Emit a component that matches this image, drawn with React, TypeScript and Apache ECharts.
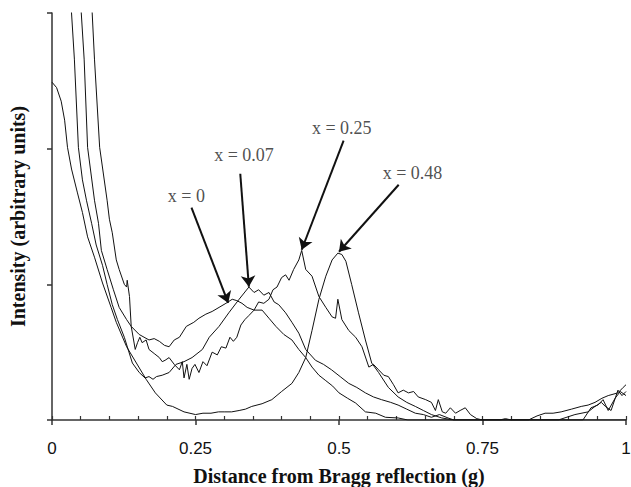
import React, { useEffect, useRef } from 'react';
import * as echarts from 'echarts';

// x axis: distance from Bragg reflection (g); y axis: intensity (arbitrary units, 0..3)
const xTickValues = [0, 0.25, 0.5, 0.75, 1];

const curveX0: number[][] = [
  [0.046, 3.4], [0.051, 3.0], [0.056, 2.66], [0.062, 2.01], [0.074, 1.62], [0.081, 1.45], [0.086, 1.25],
  [0.096, 1.11], [0.107, 0.96], [0.117, 0.83], [0.13, 0.74], [0.138, 0.69], [0.152, 0.63], [0.169, 0.59],
  [0.178, 0.6], [0.187, 0.58], [0.196, 0.55], [0.204, 0.54], [0.213, 0.59], [0.222, 0.61], [0.234, 0.69],
  [0.247, 0.72], [0.256, 0.75], [0.268, 0.78], [0.279, 0.8], [0.291, 0.83], [0.303, 0.86], [0.314, 0.89],
  [0.322, 0.88], [0.331, 0.86], [0.34, 0.83], [0.352, 0.81], [0.366, 0.81], [0.378, 0.75], [0.39, 0.69],
  [0.404, 0.63], [0.418, 0.59], [0.43, 0.52], [0.442, 0.46], [0.453, 0.39], [0.465, 0.33], [0.477, 0.29],
  [0.489, 0.25], [0.5, 0.2], [0.515, 0.16], [0.529, 0.125], [0.546, 0.06], [0.564, 0.05], [0.581, 0.02],
  [0.603, 0.015], [0.62, 0], [0.78, 0], [0.79, 0.01], [0.8, 0], [0.83, 0], [0.845, 0.03], [0.859, 0.05],
  [0.873, 0.05], [0.887, 0.06], [0.905, 0.08], [0.922, 0.1], [0.934, 0.11], [0.946, 0.13], [0.958, 0.16],
  [0.969, 0.18], [0.986, 0.2], [0.995, 0.24], [1.0, 0.26],
];

const curveX007: number[][] = [
  [0.028, 3.45], [0.034, 3.0], [0.039, 2.66], [0.046, 2.01], [0.053, 1.77], [0.06, 1.62], [0.069, 1.45],
  [0.077, 1.29], [0.088, 1.14], [0.096, 1.0], [0.105, 0.85], [0.114, 0.74], [0.126, 0.61], [0.14, 0.42],
  [0.152, 0.35], [0.162, 0.31], [0.169, 0.32], [0.176, 0.3], [0.182, 0.32], [0.192, 0.33], [0.204, 0.35],
  [0.216, 0.41], [0.23, 0.43], [0.244, 0.46], [0.262, 0.52], [0.274, 0.61], [0.291, 0.69], [0.308, 0.79],
  [0.326, 0.89], [0.343, 0.98], [0.352, 0.94], [0.36, 0.96], [0.369, 0.92], [0.378, 0.94], [0.387, 0.87],
  [0.395, 0.85], [0.407, 0.79], [0.418, 0.72], [0.43, 0.64], [0.442, 0.52], [0.459, 0.44], [0.473, 0.41],
  [0.487, 0.37], [0.502, 0.32], [0.517, 0.27], [0.531, 0.24], [0.546, 0.2], [0.56, 0.17], [0.574, 0.15],
  [0.59, 0.13], [0.603, 0.11], [0.618, 0.08], [0.633, 0.05], [0.647, 0.04], [0.661, 0.02], [0.675, 0.04],
  [0.69, 0.015], [0.7, 0], [0.925, 0], [0.939, 0.09], [0.951, 0.11], [0.96, 0.15], [0.969, 0.07],
  [0.981, 0.16], [0.99, 0.21], [1.0, 0.18],
];

const curveX025: number[][] = [
  [0.066, 3.35], [0.07, 3.0], [0.074, 2.66], [0.083, 2.01], [0.096, 1.62], [0.1, 1.48], [0.105, 1.38],
  [0.112, 1.18], [0.117, 1.11], [0.126, 1.0], [0.13, 0.98], [0.131, 1.03], [0.135, 0.91], [0.138, 0.69],
  [0.145, 0.52], [0.149, 0.57], [0.153, 0.61], [0.157, 0.57], [0.164, 0.59], [0.169, 0.52], [0.178, 0.49],
  [0.187, 0.46], [0.192, 0.43], [0.197, 0.44], [0.204, 0.46], [0.213, 0.41], [0.222, 0.37], [0.227, 0.43],
  [0.23, 0.31], [0.235, 0.41], [0.239, 0.3], [0.244, 0.38], [0.249, 0.41], [0.256, 0.35], [0.263, 0.43],
  [0.27, 0.4], [0.279, 0.5], [0.288, 0.48], [0.295, 0.54], [0.303, 0.53], [0.31, 0.61], [0.316, 0.58],
  [0.322, 0.61], [0.329, 0.7], [0.336, 0.74], [0.343, 0.77], [0.352, 0.81], [0.36, 0.87], [0.369, 0.86],
  [0.378, 0.89], [0.385, 0.96], [0.392, 0.98], [0.4, 1.05], [0.407, 1.07], [0.413, 1.03], [0.421, 1.11],
  [0.43, 1.18], [0.435, 1.25], [0.442, 1.11], [0.453, 1.06], [0.465, 0.91], [0.477, 0.83], [0.488, 0.76],
  [0.494, 0.75], [0.498, 0.89], [0.505, 0.74], [0.517, 0.66], [0.529, 0.61], [0.54, 0.54], [0.552, 0.39],
  [0.56, 0.41], [0.569, 0.37], [0.578, 0.33], [0.586, 0.32], [0.595, 0.26], [0.603, 0.2], [0.612, 0.22],
  [0.621, 0.2], [0.63, 0.21], [0.638, 0.17], [0.651, 0.15], [0.661, 0.13], [0.668, 0.07], [0.673, 0.15],
  [0.68, 0.06], [0.686, 0.05], [0.694, 0.09], [0.703, 0.05], [0.711, 0.07], [0.72, 0.09], [0.729, 0.04],
  [0.74, 0.01], [0.75, 0], [0.882, 0], [0.911, 0.04], [0.934, 0.06], [0.946, 0.1], [0.957, 0.13],
  [0.964, 0.1], [0.974, 0.07], [0.986, 0.22], [0.993, 0.18], [1.0, 0.21],
];

const curveX048: number[][] = [
  [0, 2.49], [0.008, 2.45], [0.016, 2.35], [0.022, 2.21], [0.027, 2.01], [0.034, 1.85], [0.044, 1.68],
  [0.053, 1.53], [0.062, 1.35], [0.074, 1.2], [0.088, 1.01], [0.103, 0.83], [0.112, 0.72], [0.13, 0.54],
  [0.147, 0.42], [0.164, 0.3], [0.18, 0.2], [0.2, 0.11], [0.21, 0.1], [0.23, 0.06], [0.25, 0.04],
  [0.263, 0.05], [0.277, 0.05], [0.29, 0.06], [0.3, 0.06], [0.313, 0.06], [0.326, 0.07], [0.337, 0.08],
  [0.348, 0.1], [0.366, 0.12], [0.383, 0.15], [0.4, 0.21], [0.418, 0.27], [0.43, 0.35], [0.442, 0.46],
  [0.453, 0.66], [0.465, 0.89], [0.477, 1.06], [0.488, 1.18], [0.498, 1.23], [0.505, 1.22], [0.512, 1.17],
  [0.522, 1.0], [0.534, 0.79], [0.546, 0.59], [0.557, 0.42], [0.569, 0.35], [0.586, 0.24], [0.603, 0.17],
  [0.618, 0.13], [0.633, 0.1], [0.647, 0.07], [0.661, 0.04], [0.679, 0.015], [0.7, 0], [1.0, 0],
];

const annotationLabels = ['x = 0', 'x = 0.07', 'x = 0.25', 'x = 0.48'];
const annotationAnchors: number[][] = [
  [0.234, 1.653], [0.3345, 1.956], [0.5048, 2.155], [0.628, 1.823],
];
// arrow start [g, y] and end [g, y]
const arrowStarts: number[][] = [[0.243, 1.565], [0.328, 1.815], [0.508, 2.059], [0.604, 1.734]];
const arrowEnds: number[][] = [[0.307, 0.863], [0.343, 0.982], [0.435, 1.255], [0.5, 1.24]];

const AXIS_COLOR = '#333';

export default function App() {
  const ref = useRef<HTMLDivElement>(null);
  useEffect(() => {
    const chart = echarts.init(ref.current!, null, { renderer: 'svg' });
    const lineSeries = (data: number[][]) => ({
      type: 'line',
      data,
      showSymbol: false,
      symbol: 'none',
      silent: true,
      clip: true,
      lineStyle: { color: '#111', width: 1 },
    });
    chart.setOption({
      animation: false,
      backgroundColor: '#fff',
      grid: { left: 52, right: 5, top: 13, bottom: 67, outerBoundsMode: 'none', containLabel: false },
      xAxis: [
        {
          type: 'value',
          min: 0,
          max: 1,
          interval: 0.25,
          position: 'bottom',
          axisLine: { lineStyle: { color: AXIS_COLOR, width: 1.5 } },
          axisTick: { length: 5, lineStyle: { color: AXIS_COLOR, width: 1.5 } },
          axisLabel: {
            fontFamily: 'Liberation Sans, Arial, sans-serif',
            fontSize: 17,
            color: '#111',
            margin: 20,
            hideOverlap: false,
            formatter: (v: number) => (xTickValues.includes(v) ? String(v) : ''),
          },
          splitLine: { show: false },
          name: 'Distance from Bragg reflection (g)',
          nameLocation: 'middle',
          nameGap: 46,
          nameTextStyle: {
            fontFamily: 'Liberation Serif, Times New Roman, serif',
            fontWeight: 'bold',
            fontSize: 20,
            color: '#111',
          },
        },
        {
          type: 'value',
          min: 0,
          max: 1,
          interval: 0.05,
          position: 'bottom',
          axisLine: { show: false },
          axisTick: { inside: true, length: 4, lineStyle: { color: AXIS_COLOR, width: 1.2 } },
          axisLabel: { show: false },
          splitLine: { show: false },
        },
      ],
      yAxis: {
        type: 'value',
        min: 0,
        max: 3,
        interval: 1,
        axisLine: { show: true, lineStyle: { color: AXIS_COLOR, width: 1.5 } },
        axisTick: { show: true, length: 5, lineStyle: { color: AXIS_COLOR, width: 1.5 } },
        axisLabel: { show: false },
        splitLine: { show: false },
        name: 'Intensity (arbitrary units)',
        nameLocation: 'middle',
        nameGap: 24,
        nameTextStyle: {
          fontFamily: 'Liberation Serif, Times New Roman, serif',
          fontWeight: 'bold',
          fontSize: 20,
          color: '#111',
        },
      },
      series: [
        lineSeries(curveX0),
        lineSeries(curveX007),
        lineSeries(curveX025),
        lineSeries(curveX048),
        {
          type: 'scatter',
          silent: true,
          symbolSize: 0.1,
          itemStyle: { color: 'transparent' },
          data: annotationAnchors.map((p, i) => [p[0], p[1], annotationLabels[i]]),
          label: {
            show: true,
            position: 'inside',
            formatter: (p: any) => p.value[2],
            fontFamily: 'Liberation Serif, Times New Roman, serif',
            fontSize: 18,
            color: '#222',
          },
          markLine: {
            silent: true,
            symbol: ['none', 'arrow'],
            symbolSize: 11,
            label: { show: false },
            lineStyle: { color: '#111', width: 2, type: 'solid' },
            emphasis: { disabled: true },
            data: arrowStarts.map((s, i) => [
              { coord: [s[0], s[1]] },
              { coord: [arrowEnds[i][0], arrowEnds[i][1]] },
            ]),
          },
        },
      ],
    });
    return () => chart.dispose();
  }, []);
  return (
    <div
      ref={ref}
      style={{ position: 'fixed', left: 0, top: 0, width: 631, height: 487, background: '#fff' }}
    />
  );
}
